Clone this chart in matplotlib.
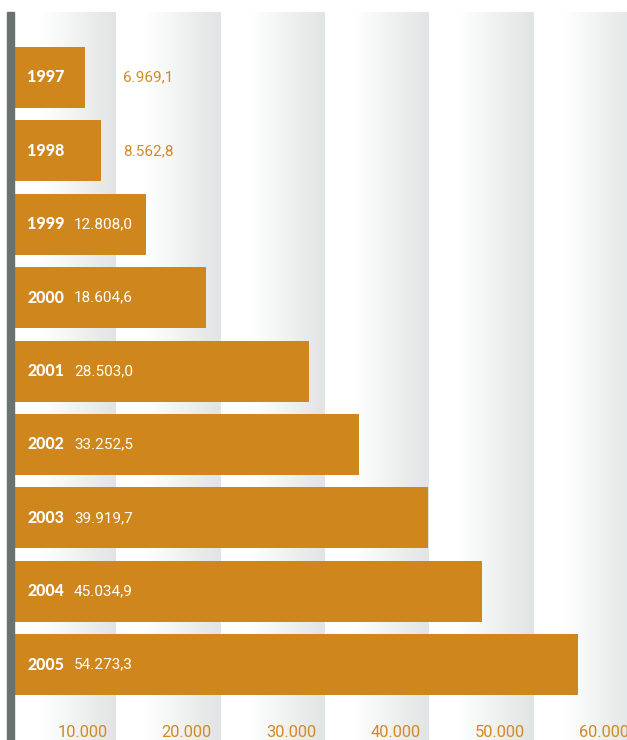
import numpy as np
import matplotlib
matplotlib.use("Agg")
import matplotlib.pyplot as plt
import matplotlib.transforms as mtransforms
from matplotlib.colors import LinearSegmentedColormap
from matplotlib.patches import Rectangle

years = ["1997", "1998", "1999", "2000", "2001", "2002", "2003", "2004", "2005"]
values = [6969.1, 8562.8, 12808.0, 18604.6, 28503.0, 33252.5, 39919.7, 45034.9, 54273.3]
value_labels = ["6.969,1", "8.562,8", "12.808,0", "18.604,6", "28.503,0",
                "33.252,5", "39.919,7", "45.034,9", "54.273,3"]
ticks = [10000, 20000, 30000, 40000, 50000, 60000]
tick_labels = ["10.000", "20.000", "30.000", "40.000", "50.000", "60.000"]

BAR = "#CF871D"
VAL_OUT = "#D08A25"
TICK = "#D08A25"
GREY_AX = "#697271"
BAND = "#E1E4E4"

W, H = 627, 740
fig = plt.figure(figsize=(W / 100, H / 100), dpi=100)
fig.patch.set_facecolor("white")

left_px, top_px = 12, 12
px_per_unit = 104.3 / 10000
ax = fig.add_axes([left_px / W, 0, (W - left_px) / W, (H - top_px) / H])
xmax = (W - left_px) / px_per_unit
ytop = -0.892
ybot = ytop + (H - top_px) / 73.4
ax.axis("off")

# gradient bands
cmap = LinearSegmentedColormap.from_list("band", [(0, "#FFFFFF"), (0.28, "#FFFFFF"), (1, BAND)])
grad = np.linspace(0, 1, 256).reshape(1, -1)
for k in range(len(ticks)):
    ax.imshow(grad, cmap=cmap, aspect="auto", interpolation="bilinear",
              extent=[ticks[k] - 10000, ticks[k], ybot, ytop], zorder=0)
ax.set_xlim(0, xmax)
ax.set_ylim(ybot, ytop)

# bars
ypos = np.arange(len(years))
ax.barh(ypos, values, height=0.83, color=BAR, zorder=2)

def off(dx):
    return mtransforms.offset_copy(
        mtransforms.blended_transform_factory(ax.transAxes, ax.transData),
        fig=fig, x=dx, y=0, units="dots")

for i, (yr, v, lab) in enumerate(zip(years, values, value_labels)):
    ax.text(0, i, yr, transform=off(15), ha="left", va="center",
            fontsize=11.5, fontweight="black", family=["Lato", "DejaVu Sans"],
            color="white", zorder=3)
    if v < 10000:
        ax.text(0, i, lab, transform=off(111), ha="left", va="center",
                fontsize=11, fontweight="normal", family=["Roboto", "DejaVu Sans"],
                color=VAL_OUT, zorder=3)
    else:
        ax.text(0, i, lab, transform=off(62), ha="left", va="center",
                fontsize=11, fontweight="normal", family=["Roboto", "DejaVu Sans"],
                color="white", zorder=3)

# tick labels
tt = mtransforms.offset_copy(
    mtransforms.blended_transform_factory(ax.transData, fig.transFigure),
    fig=fig, x=-9, y=3, units="dots")
for t, lab in zip(ticks, tick_labels):
    ax.text(t, 0, lab, transform=tt, ha="right", va="baseline",
            fontsize=11.8, fontweight="normal", family=["Roboto", "DejaVu Sans"],
            color=TICK, clip_on=False, zorder=3)

# grey axis bar
fig.patches.append(Rectangle((7 / W, 0), 7 / W, (H - top_px) / H,
                             transform=fig.transFigure, color=GREY_AX, zorder=5))

fig.savefig("out.png", dpi=100)
